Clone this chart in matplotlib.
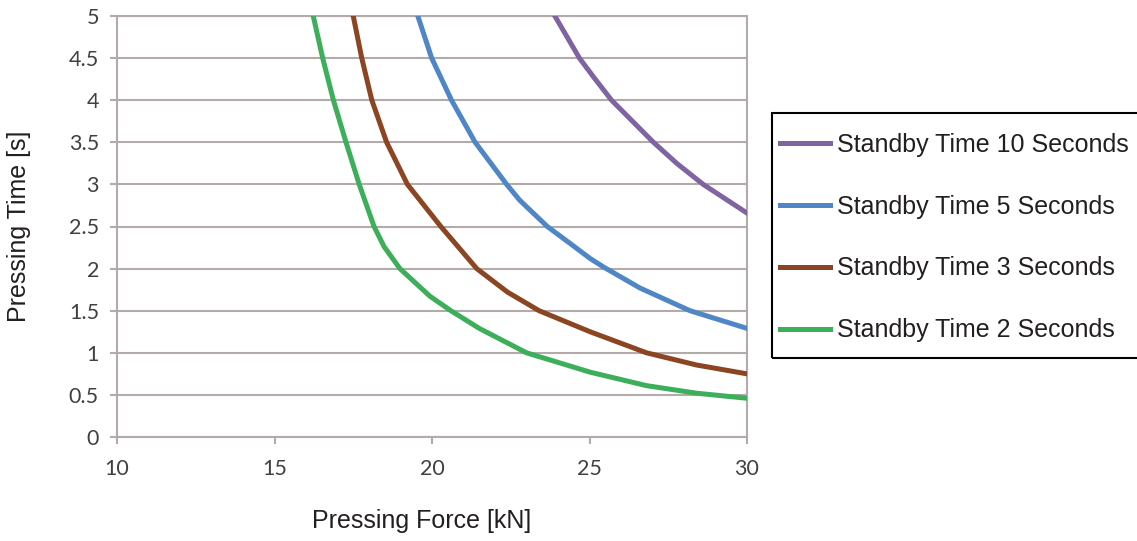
import numpy as np
import matplotlib
matplotlib.use("Agg")
import matplotlib.pyplot as plt
from matplotlib.patches import Rectangle

# values (force kN, time s)
force_10s = [23.9, 24.68, 25.12, 25.7, 27.03, 27.77, 28.61, 30.0]
time_10s = [5.0, 4.5, 4.28, 4.0, 3.5, 3.25, 3.0, 2.66]

force_5s = [19.55, 19.99, 20.62, 21.37, 22.37, 22.79, 23.66, 24.38, 25.02, 25.44, 26.6, 28.19, 30.0]
time_5s = [5.0, 4.5, 4.0, 3.5, 3.0, 2.81, 2.5, 2.3, 2.12, 2.02, 1.77, 1.5, 1.29]

force_3s = [17.5, 17.77, 18.09, 18.56, 19.22, 19.94, 20.28, 21.42, 22.4, 23.4, 25.02, 26.81, 28.4, 30.0]
time_3s = [5.0, 4.5, 4.0, 3.5, 3.0, 2.66, 2.5, 2.0, 1.72, 1.5, 1.25, 1.0, 0.855, 0.75]

force_2s = [16.23, 16.53, 16.87, 17.27, 17.69, 18.16, 18.48, 18.98, 19.94, 20.6, 21.5, 23.0, 25.02, 26.81, 28.4, 30.0]
time_2s = [5.0, 4.5, 4.0, 3.5, 3.0, 2.5, 2.26, 2.0, 1.67, 1.5, 1.29, 1.0, 0.77, 0.61, 0.52, 0.46]

labels = ["Standby Time 10 Seconds", "Standby Time 5 Seconds",
          "Standby Time 3 Seconds", "Standby Time 2 Seconds"]
colors = ["#8064A2", "#4F86C6", "#8B4522", "#3DAE5A"]

x_ticks = [10, 15, 20, 25, 30]
y_ticks = [0, 0.5, 1, 1.5, 2, 2.5, 3, 3.5, 4, 4.5, 5]
y_tick_labels = ["0", "0.5", "1", "1.5", "2", "2.5", "3", "3.5", "4", "4.5", "5"]

W, H = 1137, 541
plt.rcParams['font.family'] = ['Liberation Sans', 'DejaVu Sans']

fig = plt.figure(figsize=(W / 100, H / 100), dpi=100)
ax = fig.add_axes([117 / W, 1 - 437 / H, 630 / W, 421 / H])

series = [(force_10s, time_10s), (force_5s, time_5s), (force_3s, time_3s), (force_2s, time_2s)]
for (f, t), lab, c in zip(series, labels, colors):
    ax.plot(f, t, color=c, lw=3.6, label=lab, solid_joinstyle='round', zorder=3)

ax.set_xlim(10, 30)
ax.set_ylim(0, 5)
ax.set_xticks(x_ticks)
ax.set_yticks(y_ticks)
ax.set_yticklabels(y_tick_labels)

grid_c = "#B3AAAA"
ax.yaxis.grid(True, color=grid_c, lw=1.5, zorder=1)
ax.set_axisbelow(True)
for s in ax.spines.values():
    s.set_color(grid_c)
    s.set_linewidth(1.5)

ax.tick_params(axis='both', direction='out', length=5, width=1.5, color=grid_c,
               labelcolor="#404040", labelsize=15.5)
ax.tick_params(axis='y', pad=8)
ax.tick_params(axis='x', pad=11)
for lbl in ax.get_xticklabels() + ax.get_yticklabels():
    lbl.set_family(['Lato', 'DejaVu Sans'])

ax.set_xlabel("Pressing Force [kN]", fontsize=18, color="#231F20")
ax.set_ylabel("Pressing Time [s]", fontsize=18, color="#231F20")
ax.xaxis.set_label_coords(0.484, -0.17)
ax.yaxis.set_label_coords(-0.136, 0.5)

# legend without its own frame; box drawn separately so it runs off the right edge
leg = fig.legend(loc='upper left', bbox_to_anchor=(780 / W, 1 - 133 / H),
                 fontsize=18, handlelength=2.0, handletextpad=0.28,
                 borderpad=0, borderaxespad=0, labelspacing=1.51, frameon=False)
for t in leg.get_texts():
    t.set_color("#231F20")
fig.patches.append(Rectangle((772 / W, 1 - 358 / H), 380 / W, 245 / H,
                             transform=fig.transFigure, fill=False,
                             edgecolor='black', lw=1.5))

fig.savefig("out.png", dpi=100)
